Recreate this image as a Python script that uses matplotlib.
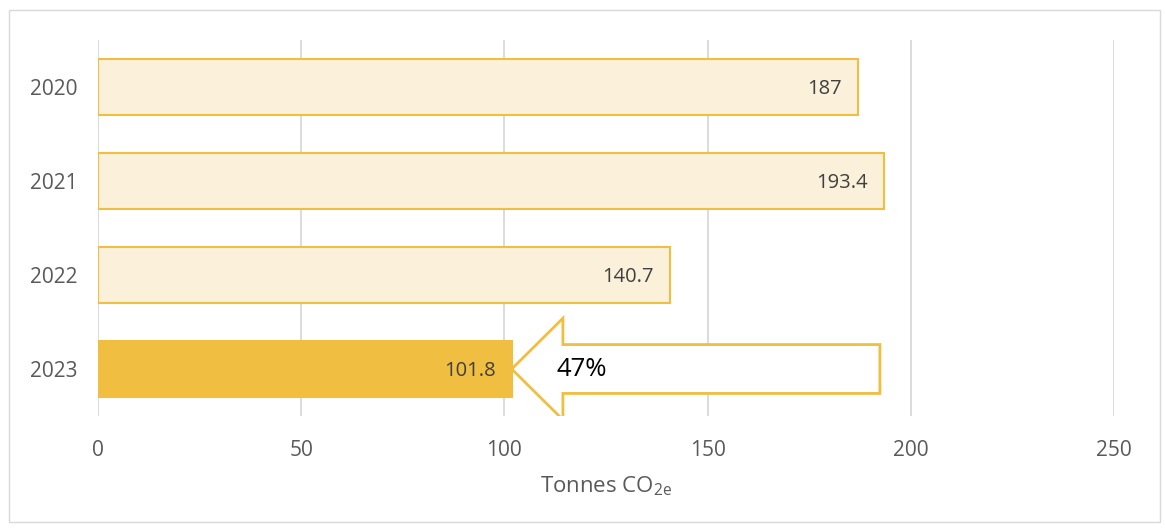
import matplotlib.pyplot as plt
from matplotlib.patches import Polygon, Rectangle

years = ["2020", "2021", "2022", "2023"]
emissions = [187, 193.4, 140.7, 101.8]
value_labels = ["187", "193.4", "140.7", "101.8"]
reduction_label = "47%"
x_ticks = [0, 50, 100, 150, 200, 250]

gold = "#F0BE41"
pale = "#FBF0DA"
grid = "#D9D9D9"

plt.rcParams["font.family"] = ["Open Sans", "DejaVu Sans"]
plt.rcParams["mathtext.default"] = "regular"

fig = plt.figure(figsize=(11.65, 5.28), dpi=100)
ax = fig.add_axes([98 / 1165, 1 - 416 / 528, 1016 / 1165, 376 / 528])

ypos = list(range(len(years)))
fills = [pale, pale, pale, gold]
ax.barh(ypos, emissions, height=0.6, color=fills, edgecolor=gold, linewidth=1.5, zorder=3)

for y, v, lab in zip(ypos, emissions, value_labels):
    ax.text(v - 4, y + 0.02, lab, ha="right", va="center", fontsize=14.5, color="#404040", zorder=4)

# arrow pointing back at the latest bar
tip = emissions[-1]
tail = max(emissions) - 1
neck = tip + 12.6
y0 = ypos[-1]
body, head = 0.26, 0.54
arrow = Polygon([(tip, y0), (neck, y0 - head), (neck, y0 - body), (tail, y0 - body),
                 (tail, y0 + body), (neck, y0 + body), (neck, y0 + head)],
                closed=True, facecolor="white", edgecolor=gold, linewidth=2, zorder=5)
ax.add_patch(arrow)
ax.text(tip + 11, y0, reduction_label, ha="left", va="center", fontsize=18.5,
        color="black", zorder=6)

ax.set_xlim(0, 250)
ax.set_ylim(len(years) - 0.5, -0.5)
ax.set_xticks(x_ticks)
ax.set_yticks(ypos)
ax.set_yticklabels(years)
ax.tick_params(axis="both", length=0, labelsize=15, colors="#595959")
ax.tick_params(axis="y", pad=15)
ax.tick_params(axis="x", pad=17)
ax.xaxis.grid(True, color=grid, linewidth=1.3, zorder=0)
ax.set_axisbelow(True)
for s in ax.spines.values():
    s.set_visible(False)
ax.set_xlabel("Tonnes CO$_{2e}$", fontsize=16, color="#595959", labelpad=10)

fig.patches.append(Rectangle((9 / 1165, 1 - 522 / 528), 1151 / 1165, 512 / 528,
                             transform=fig.transFigure, fill=False, edgecolor=grid,
                             linewidth=1))

fig.savefig("out.png", dpi=100)
